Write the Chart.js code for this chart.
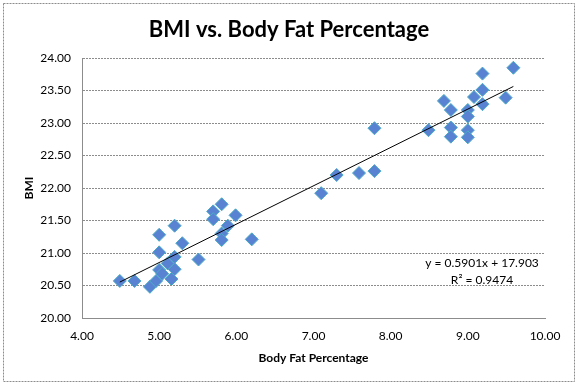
<!DOCTYPE html>
<html>
<head>
<meta charset="utf-8">
<script src="https://cdn.jsdelivr.net/npm/chart.js@4"></script>
<style>
  html, body { margin: 0; padding: 0; background: #fff; }
  #wrap { width: 578px; height: 385px; }
</style>
</head>
<body>
<div id="wrap"><canvas id="chart" width="578" height="385"></canvas></div>
<script>
// body fat % (x) and BMI (y)
const bodyFat = [4.49, 4.68, 4.88, 4.96, 5.00, 5.04, 5.16, 5.20, 5.11, 5.20, 5.00, 5.51, 5.30, 5.00, 5.20,
                 5.70, 5.70, 5.81, 5.99, 5.89, 5.81, 5.81, 6.20, 7.10, 7.30, 7.59, 7.79, 7.79,
                 8.49, 8.69, 8.78, 8.78, 8.78, 9.00, 9.00, 9.00, 9.00, 9.08, 9.19, 9.19, 9.19, 9.49, 9.59];
const bmi = [20.57, 20.57, 20.48, 20.57, 20.74, 20.68, 20.60, 20.75, 20.84, 20.94, 21.01, 20.90, 21.15, 21.28, 21.42,
             21.64, 21.52, 21.75, 21.58, 21.42, 21.30, 21.20, 21.21, 21.92, 22.20, 22.23, 22.26, 22.92,
             22.89, 23.34, 23.20, 22.93, 22.79, 23.20, 23.10, 22.89, 22.78, 23.40, 23.76, 23.51, 23.29, 23.39, 23.85];

// trendline as printed on the chart
const slope = 0.5901;
const intercept = 17.903;
const rSquared = 0.9474;

const xTicks = [4, 5, 6, 7, 8, 9, 10];
const yTicks = [20, 20.5, 21, 21.5, 22, 22.5, 23, 23.5, 24];

const points = bodyFat.map((x, i) => ({ x: x, y: bmi[i] }));
const xMin = Math.min(...bodyFat), xMax = Math.max(...bodyFat);
const trend = [xMin, xMax].map(x => ({ x: x, y: slope * x + intercept }));

const FONT = "Lato, 'Open Sans', sans-serif";
const GRID = "#8c8c8c";

const frame = {
    id: "frame",
    beforeDraw(chart) {
        const ctx = chart.ctx;
        ctx.save();
        ctx.fillStyle = "#fff";
        ctx.fillRect(0, 0, chart.width, chart.height);
        ctx.restore();
    },
    afterDraw(chart) {
        const ctx = chart.ctx;
        ctx.save();
        // outer dotted chart border
        ctx.strokeStyle = "#8c8c8c";
        ctx.lineWidth = 1;
        ctx.setLineDash([2, 1]);
        ctx.strokeRect(3.5, 3.5, 571, 378);
        ctx.setLineDash([]);
        ctx.fillStyle = "#000";
        ctx.textAlign = "center";
        ctx.textBaseline = "middle";
        // title, centred on the whole chart like Excel does
        ctx.font = "bold 22px " + FONT;
        ctx.fillText("BMI vs. Body Fat Percentage", chart.width / 2, 30);
        // trendline label
        ctx.font = "12px " + FONT;
        ctx.fillText("y = " + slope + "x + " + intercept, 482, 263);
        ctx.fillText("R\u00b2 = " + rSquared, 482, 280);
        ctx.restore();
    }
};

new Chart(document.getElementById("chart"), {
    type: "scatter",
    data: {
        datasets: [
            {
                type: "line",
                label: "Linear",
                data: trend,
                borderColor: "#000",
                borderWidth: 1,
                pointRadius: 0,
                fill: false
            },
            {
                label: "BMI",
                data: points,
                pointStyle: "rectRot",
                pointRadius: 6.5,
                backgroundColor: "#5a82d2",
                borderColor: "#4bacc6",
                borderWidth: 1
            }
        ]
    },
    options: {
        responsive: false,
        animation: false,
        layout: { padding: { top: 58, right: 33, bottom: 0, left: 0 } },
        plugins: {
            legend: { display: false },
            tooltip: { enabled: false },
            title: { display: false }
        },
        scales: {
            x: {
                type: "linear",
                min: 4,
                max: 10,
                afterBuildTicks: s => { s.ticks = xTicks.map(v => ({ value: v })); },
                afterFit: s => { s.height = 67; },
                ticks: {
                    color: "#000",
                    font: { family: FONT, size: 12 },
                    padding: 11,
                    callback: v => Number(v).toFixed(2)
                },
                grid: { display: false, drawTicks: false },
                border: { display: true, color: GRID, dash: [2, 1] },
                title: {
                    display: true,
                    text: "Body Fat Percentage",
                    color: "#000",
                    font: { family: FONT, size: 12, weight: "bold" },
                    padding: { top: 0, bottom: 20 }
                }
            },
            y: {
                type: "linear",
                min: 20,
                max: 24,
                afterBuildTicks: s => { s.ticks = yTicks.map(v => ({ value: v })); },
                afterFit: s => { s.width = 82; },
                ticks: {
                    color: "#000",
                    font: { family: FONT, size: 12 },
                    padding: 11,
                    callback: v => Number(v).toFixed(2)
                },
                grid: { color: GRID, drawTicks: false },
                border: { display: true, color: GRID, dash: [2, 1] },
                title: {
                    display: true,
                    text: "BMI",
                    color: "#000",
                    font: { family: FONT, size: 12, weight: "bold" },
                    padding: { top: 22, bottom: 0 }
                }
            }
        }
    },
    plugins: [frame]
});
</script>
</body>
</html>
